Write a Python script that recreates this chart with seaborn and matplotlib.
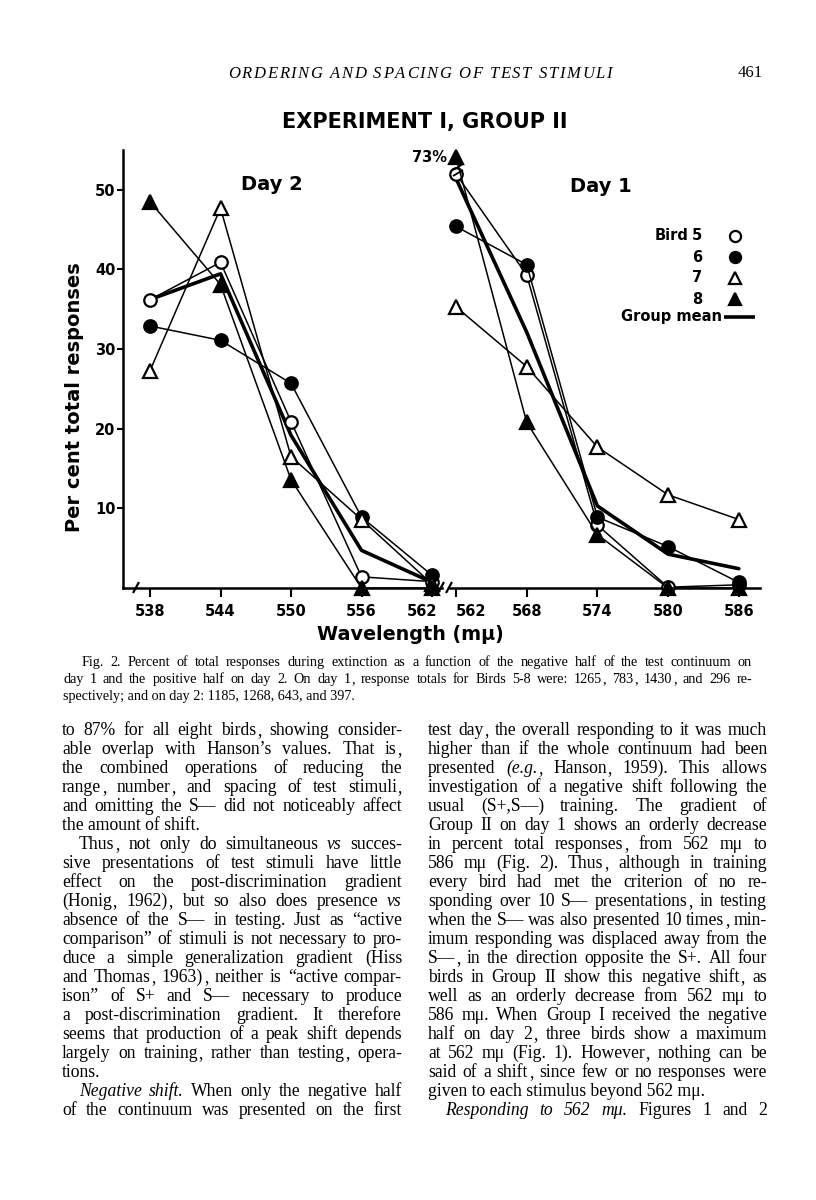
import matplotlib
matplotlib.use('Agg')
import matplotlib.pyplot as plt
from matplotlib.lines import Line2D
from matplotlib.transforms import Affine2D, ScaledTranslation
import numpy as np
import pandas as pd
import seaborn as sns

W, H = 816, 1200

# ---- chart data (per cent of total responses) ----
wavelength_day2 = [538, 544, 550, 556, 562]
wavelength_day1 = [562, 568, 574, 580, 586]
birds = [5, 6, 7, 8]
day2_bird5 = [36.2, 40.9, 20.9, 1.4, 0.8]
day2_bird6 = [32.9, 31.1, 25.7, 8.9, 1.6]
day2_bird7 = [27.3, 47.7, 16.5, 8.6, 0.5]
day2_bird8 = [48.5, 38.1, 13.6, 0.0, 0.0]
day1_bird5 = [52.0, 39.3, 7.9, 0.1, 0.4]
day1_bird6 = [45.4, 40.6, 8.9, 5.2, 0.7]
day1_bird7 = [35.3, 27.8, 17.7, 11.7, 8.6]
day1_bird8 = [73.0, 20.8, 6.7, 0.0, 0.0]
y_ticks = [10, 20, 30, 40, 50]
off_scale = 54.1   # where the 73% point is drawn (axis is broken above)

bird_style = {5: ('o', 'white'), 6: ('o', 'black'), 7: ('^', 'white'), 8: ('^', 'black')}

# ---- page text ----
header = 'ORDERING AND SPACING OF TEST STIMULI'
page_no = '461'
caption = [
    'Fig. 2. Percent of total responses during extinction as a function of the negative half of the test continuum on',
    'day 1 and the positive half on day 2. On day 1, response totals for Birds 5-8 were: 1265, 783, 1430, and 296 re-',
    'spectively; and on day 2: 1185, 1268, 643, and 397.|',
]
# '>' = indented line, '|' = not justified, '*' = italic word
left_col = [
    'to 87% for all eight birds, showing consider-',
    'able overlap with Hanson\u2019s values. That is,',
    'the combined operations of reducing the',
    'range, number, and spacing of test stimuli,',
    'and omitting the S\u2014 did not noticeably affect',
    'the amount of shift.|',
    '>Thus, not only do simultaneous *vs succes-',
    'sive presentations of test stimuli have little',
    'effect on the post-discrimination gradient',
    '(Honig, 1962), but so also does presence *vs',
    'absence of the S\u2014 in testing. Just as \u201cactive',
    'comparison\u201d of stimuli is not necessary to pro-',
    'duce a simple generalization gradient (Hiss',
    'and Thomas, 1963), neither is \u201cactive compar-',
    'ison\u201d of S+ and S\u2014 necessary to produce',
    'a post-discrimination gradient. It therefore',
    'seems that production of a peak shift depends',
    'largely on training, rather than testing, opera-',
    'tions.|',
    '>*Negative *shift. When only the negative half',
    'of the continuum was presented on the first',
]
right_col = [
    'test day, the overall responding to it was much',
    'higher than if the whole continuum had been',
    'presented *(e.g., Hanson, 1959). This allows',
    'investigation of a negative shift following the',
    'usual (S+,S\u2014) training. The gradient of',
    'Group II on day 1 shows an orderly decrease',
    'in percent total responses, from 562 m\u03bc to',
    '586 m\u03bc (Fig. 2). Thus, although in training',
    'every bird had met the criterion of no re-',
    'sponding over 10 S\u2014 presentations, in testing',
    'when the S\u2014 was also presented 10 times, min-',
    'imum responding was displaced away from the',
    'S\u2014, in the direction opposite the S+. All four',
    'birds in Group II show this negative shift, as',
    'well as an orderly decrease from 562 m\u03bc to',
    '586 m\u03bc. When Group I received the negative',
    'half on day 2, three birds show a maximum',
    'at 562 m\u03bc (Fig. 1). However, nothing can be',
    'said of a shift, since few or no responses were',
    'given to each stimulus beyond 562 m\u03bc.|',
    '>*Responding *to *562 *m\u03bc. Figures 1 and 2',
]

# ---- long table ----
rows = []
for day, wl, series in [('Day 2', wavelength_day2, [day2_bird5, day2_bird6, day2_bird7, day2_bird8]),
                        ('Day 1', wavelength_day1, [day1_bird5, day1_bird6, day1_bird7, day1_bird8])]:
    for b, vals in zip(birds, series):
        for w, v in zip(wl, vals):
            rows.append((day, b, w, v))
df = pd.DataFrame(rows, columns=['day', 'bird', 'wavelength', 'pct'])
df['shown'] = df['pct'].clip(upper=off_scale)

sns.set_theme(style='white')
plt.rcParams['font.family'] = ['DejaVu Sans']
for k in ('axes.edgecolor', 'text.color', 'xtick.color', 'ytick.color', 'axes.labelcolor'):
    plt.rcParams[k] = 'black'

fig = plt.figure(figsize=(W / 100, H / 100), dpi=100)
fig.patch.set_facecolor('white')
pxT = Affine2D().scale(1 / W, -1 / H).translate(0, 1) + fig.transFigure


def ax_at(x0, x1, y0, y1):
    return fig.add_axes([x0 / W, 1 - y1 / H, (x1 - x0) / W, (y1 - y0) / H])


ax2 = ax_at(123, 442, 150, 588)
ax1 = ax_at(446, 760, 150, 588)

for ax, day, wl, xlim in [(ax2, 'Day 2', wavelength_day2, (535.7, 562.85)),
                          (ax1, 'Day 1', wavelength_day1, (561.15, 587.8))]:
    d = df[df['day'] == day]
    sns.lineplot(data=d, x='wavelength', y='pct', estimator='mean', errorbar=None,
                 color='black', lw=2.6, ax=ax, zorder=2, legend=False)
    for b in birds:
        m, fc = bird_style[b]
        sns.lineplot(data=d[d['bird'] == b], x='wavelength', y='shown', ax=ax,
                     color='black', lw=1.1, marker=m, markersize=9 if m == 'o' else 9.5,
                     markerfacecolor=fc, markeredgecolor='black', markeredgewidth=1.6,
                     zorder=3, clip_on=False, legend=False)
    ax.set_xlim(*xlim)
    ax.set_ylim(0, 55)
    ax.set_xticks(wl)
    ax.set_xticklabels([str(w) for w in wl], fontsize=10.5, fontweight='bold')
    ax.set_xlabel('')
    ax.set_ylabel('')
    ax.set_facecolor('none')
    ax.spines[['top', 'right']].set_visible(False)
    for s in ax.spines.values():
        s.set_linewidth(1.8)
    ax.tick_params(axis='x', direction='out', length=6.5, width=1.5, pad=5, bottom=True)

# the two 562 labels sit either side of the break
lab = ax2.get_xticklabels()[-1]
lab.set_ha('right')
lab.set_transform(lab.get_transform() + ScaledTranslation(5 / 100, 0, fig.dpi_scale_trans))
ax1.get_xticklabels()[0].set_ha('left')

ax2.set_yticks(y_ticks)
ax2.set_yticklabels([str(v) for v in y_ticks], fontsize=10.5, fontweight='bold')
ax2.tick_params(axis='y', direction='out', length=4.5, width=1.5, pad=1, left=True)
ax1.spines['left'].set_visible(False)
ax1.spines['bottom'].set_bounds(561.5, 587.8)
ax1.tick_params(axis='y', left=False, labelleft=False)
ax1.set_yticks([])


def px_line(xs, ys, lw=1.6):
    fig.add_artist(Line2D(xs, ys, transform=pxT, color='black', lw=lw, solid_capstyle='butt'))


def px_text(x, y, s, **kw):
    kw.setdefault('va', 'center')
    return fig.text(x, y, s, transform=pxT, **kw)


# axis breaks
for bx in (136, 441, 449):
    px_line([bx - 3, bx + 3], [593, 582])
px_line([453, 463], [170, 164], lw=1.3)
px_line([453, 463], [176, 170], lw=1.3)
px_text(447, 158, '73%', ha='right', fontsize=10.5, fontweight='bold')

# chart labels
px_text(425, 122, 'EXPERIMENT I, GROUP II', ha='center', fontsize=15, fontweight='bold')
px_text(272, 184, 'Day 2', ha='center', fontsize=14, fontweight='bold')
px_text(601, 186, 'Day 1', ha='center', fontsize=14, fontweight='bold')
px_text(75, 397, 'Per cent total responses', ha='center', rotation=90, fontsize=14, fontweight='bold')
px_text(410, 635, 'Wavelength (m\u03bc)', ha='center', fontsize=13.8, fontweight='bold')

# legend
leg_y = [236, 257, 278, 299]
px_text(688, leg_y[0], 'Bird', ha='right', fontsize=10.5, fontweight='bold')
for b, y in zip(birds, leg_y):
    m, fc = bird_style[b]
    px_text(702, y, str(b), ha='right', fontsize=10.5, fontweight='bold')
    fig.add_artist(Line2D([735], [y], transform=pxT, marker=m, markersize=8,
                          markerfacecolor=fc, markeredgecolor='black', markeredgewidth=1.6, lw=0))
px_text(722, 317, 'Group mean', ha='right', fontsize=10.5, fontweight='bold')
px_line([724, 755], [317, 317], lw=2.6)

# ---- page text ----
renderer = fig.canvas.get_renderer()
SERIF = 'Liberation Serif'


def set_line(line, x0, x1, y, size, indent, min_gap=3.2):
    just = not line.endswith('|')
    line = line.rstrip('|')
    yb = y + 0.24 * size * 100 / 72
    if line.startswith('>'):
        line = line[1:]
        x0 += indent
    if not just:
        px_text(x0, yb, line.replace('*', ''), ha='left', va='baseline', fontsize=size, family=SERIF)
        return
    words = []
    for w in line.split(' '):
        st = 'italic' if w.startswith('*') else 'normal'
        w = w.lstrip('*')
        # a trailing comma is set on its own so the word keeps the common baseline
        tail = ',' if (w.endswith(',') and len(w) > 1) else ''
        words.append((w[:-1] if tail else w, tail, st))

    def make(sz):
        arts, widths = [], []
        for w, tail, st in words:
            a = px_text(0, yb, w, ha='left', va='baseline', fontsize=sz, family=SERIF, style=st)
            wa = a.get_window_extent(renderer).width
            c, wc = None, 0.0
            if tail:
                c = px_text(0, yb, tail, ha='left', va='baseline', fontsize=sz, family=SERIF, style=st)
                wc = c.get_window_extent(renderer).width + 0.8
            arts.append((a, wa, c))
            widths.append(wa + wc)
        return arts, widths

    arts, widths = make(size)
    gap = (x1 - x0 - sum(widths)) / max(len(arts) - 1, 1)
    if gap < min_gap:
        for a, _, c in arts:
            a.remove()
            if c is not None:
                c.remove()
        sc = (x1 - x0 - min_gap * (len(words) - 1)) / sum(widths)
        arts, widths = make(size * sc)
        gap = (x1 - x0 - sum(widths)) / max(len(arts) - 1, 1)
    x = x0
    for (a, wa, c), w in zip(arts, widths):
        a.set_position((x, yb))
        if c is not None:
            c.set_position((x + wa + 0.8, yb))
        x += w + gap


def tracked(text, x0, x1, y, size, style):
    # letter-spaced running head
    chars = list(text)
    arts, widths = [], []
    space = size * 100 / 72 * 0.25
    yb = y + 0.33 * size * 100 / 72
    for c in chars:
        if c == ' ':
            arts.append(None)
            widths.append(space)
        else:
            a = px_text(0, yb, c, ha='left', va='baseline', fontsize=size, family=SERIF, style=style)
            arts.append(a)
            widths.append(a.get_window_extent(renderer).width)
    track = (x1 - x0 - sum(widths)) / (len(chars) - 1)
    x = x0
    for a, w in zip(arts, widths):
        if a is not None:
            a.set_position((x, yb))
        x += w + track


tracked(header, 228, 612, 73, 12, 'italic')
px_text(763, 73, page_no, ha='right', fontsize=12, family=SERIF)

for i, line in enumerate(caption):
    set_line(('>' if i == 0 else '') + line, 63, 752, 663 + 17 * i, 10.2, 19)

for i, line in enumerate(left_col):
    set_line(line, 62, 402, 731 + 19 * i, 12.7, 17)
for i, line in enumerate(right_col):
    set_line(line, 428, 767, 731 + 19 * i, 12.7, 17)

fig.savefig('out.png', dpi=100, facecolor='white')
